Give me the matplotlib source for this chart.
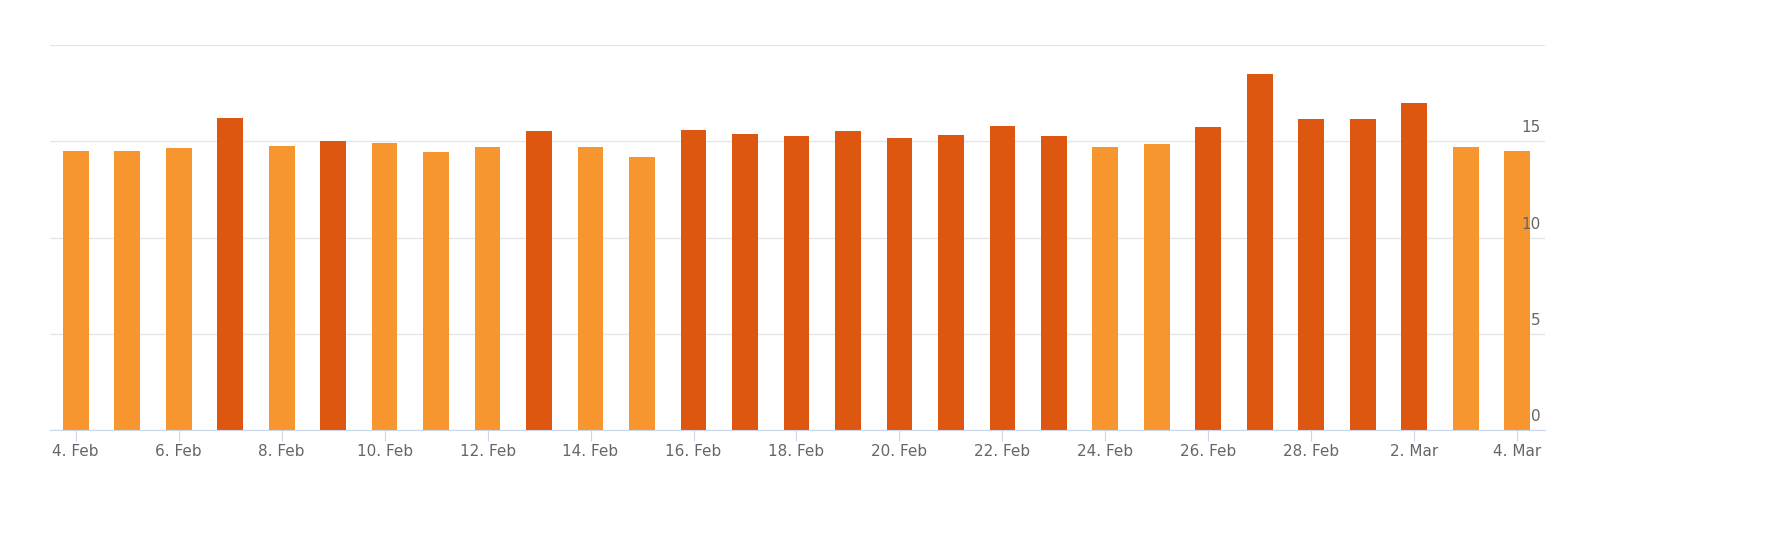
import matplotlib
matplotlib.use("Agg")
import matplotlib.pyplot as plt
import matplotlib.transforms as mtransforms
import numpy as np

labels = ["4. Feb","5. Feb","6. Feb","7. Feb","8. Feb","9. Feb","10. Feb","11. Feb","12. Feb","13. Feb",
          "14. Feb","15. Feb","16. Feb","17. Feb","18. Feb","19. Feb","20. Feb","21. Feb","22. Feb","23. Feb",
          "24. Feb","25. Feb","26. Feb","27. Feb","28. Feb","1. Mar","2. Mar","3. Mar","4. Mar"]
values = [14.5,14.5,14.65,16.2,14.75,15.0,14.9,14.45,14.7,15.55,
          14.7,14.2,15.6,15.4,15.25,15.55,15.15,15.3,15.8,15.25,
          14.7,14.85,15.75,18.5,16.15,16.15,17.0,14.7,14.5]
dark = [0,0,0,1,0,1,0,0,0,1,0,0,1,1,1,1,1,1,1,1,0,0,1,1,1,1,1,0,0]
yticks = [0, 5, 10, 15, 20]
ylabels = ["0", "5", "10", "15", ""]

LIGHT, DARK = "#F7962F", "#DD5711"
fig = plt.figure(figsize=(17.69, 5.47), dpi=100)
ax = fig.add_axes([50/1769, 117/547, 1495/1769, 385/547])
x = np.arange(len(values))
ax.bar(x, values, width=0.5, color=[DARK if d else LIGHT for d in dark], zorder=2)
ax.set_xlim(-0.5, len(values) - 0.46)
ax.set_ylim(0, 20)
ax.set_yticks(yticks)
ax.set_yticklabels([])
ax.tick_params(axis="y", length=0, left=False)
trans = mtransforms.blended_transform_factory(ax.transAxes, ax.transData)
for v, l in zip(yticks, ylabels):
    ax.text(0.997, v + 0.3, l, transform=trans, ha="right", va="bottom",
            fontsize=11, color="#666666")
ax.grid(axis="y", color="#e6e6e6", linewidth=1, zorder=0)
ax.set_xticks(x[::2])
ax.set_xticklabels(labels[::2])
ax.tick_params(axis="x", length=8, color="#ccd6eb", labelsize=11, labelcolor="#666666", pad=2)
for s in ["top", "left", "right"]:
    ax.spines[s].set_visible(False)
ax.spines["bottom"].set_color("#ccd6eb")
fig.savefig("out.png", dpi=100)
